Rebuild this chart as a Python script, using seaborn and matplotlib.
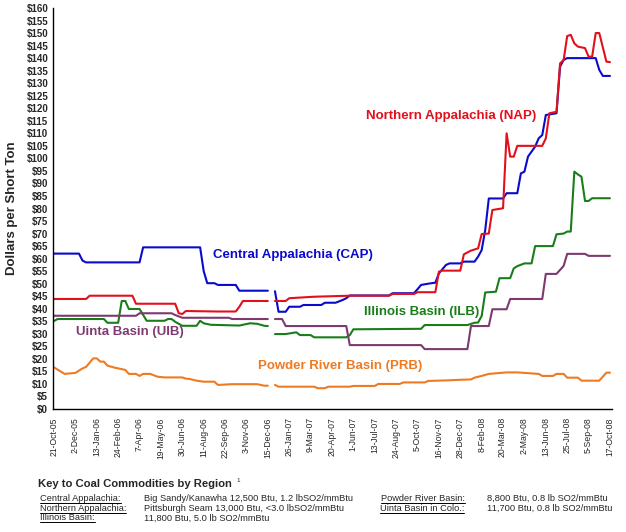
import numpy as np
import pandas as pd
import matplotlib
matplotlib.use("Agg")
import matplotlib.pyplot as plt
from matplotlib.lines import Line2D
import seaborn as sns

NA = np.nan  # missing week (holiday) -> break in the lines

# Central Appalachia (CAP)
cap_dates = ["2005-10-21", "2005-12-09", "2005-12-16", "2005-12-23", "2006-04-07", "2006-04-14",
             "2006-08-04", "2006-08-11", "2006-08-18", "2006-09-01", "2006-09-08", "2006-10-13",
             "2006-10-20", "2006-12-15", "2006-12-22", "2006-12-29", "2007-01-05", "2007-01-19",
             "2007-01-26", "2007-02-16", "2007-02-23", "2007-03-30", "2007-04-06", "2007-04-27",
             "2007-05-11", "2007-05-18", "2007-05-25", "2007-08-10", "2007-08-17", "2007-09-28",
             "2007-10-05", "2007-10-12", "2007-10-26", "2007-11-09", "2007-11-16", "2007-11-30",
             "2007-12-07", "2007-12-28", "2008-01-04", "2008-01-25", "2008-02-01", "2008-02-08",
             "2008-02-15", "2008-02-22", "2008-03-21", "2008-03-28", "2008-04-18", "2008-04-25",
             "2008-05-02", "2008-05-09", "2008-05-23", "2008-05-30", "2008-06-06", "2008-06-13",
             "2008-07-04", "2008-07-11", "2008-07-18", "2008-07-25", "2008-09-19", "2008-09-26",
             "2008-10-03", "2008-10-17"]
cap_price = [62, 62, 59.2, 58.5, 58.5, 64.5,
             64.5, 55, 50.2, 50.2, 49.5, 49.5,
             47.2, 47.2, NA, 47, 38.8, 38.8,
             40.8, 40.8, 41.5, 41.5, 42.4, 42.4,
             43.5, 44.2, 45.3, 45.3, 46.2, 46.2,
             47.8, 49.5, 50, 50.4, 54.1, 57.5,
             58.1, 58.1, 58.8, 58.8, 60.8, 63.4,
             71.4, 84, 84, 86.1, 86.1, 94,
             94.7, 100.7, 104.7, 108, 109.3, 117.3,
             118, 136.6, 139.3, 140, 140, 135.3,
             132.9, 132.9]

# Northern Appalachia (NAP)
nap_dates = ["2005-10-21", "2005-12-23", "2005-12-30", "2006-03-24", "2006-03-31", "2006-06-16",
             "2006-06-23", "2006-06-30", "2006-07-07", "2006-09-08", "2006-10-13", "2006-10-20",
             "2006-10-27", "2006-12-15", "2006-12-22", "2006-12-29", "2007-01-19", "2007-01-26",
             "2007-03-16", "2007-05-25", "2007-08-10", "2007-08-17", "2007-09-28", "2007-10-05",
             "2007-11-09", "2007-11-16", "2007-11-23", "2007-12-28", "2008-01-04", "2008-01-18",
             "2008-02-01", "2008-02-08", "2008-02-22", "2008-02-29", "2008-03-21", "2008-03-28",
             "2008-04-04", "2008-04-11", "2008-04-18", "2008-06-06", "2008-06-13", "2008-06-20",
             "2008-07-04", "2008-07-11", "2008-07-18", "2008-07-25", "2008-08-01", "2008-08-08",
             "2008-08-15", "2008-08-29", "2008-09-05", "2008-09-12", "2008-09-19", "2008-09-26",
             "2008-10-10", "2008-10-17"]
nap_price = [43.9, 43.9, 45.2, 45.2, 42, 42,
             38.2, 37.9, 39.1, 38.9, 38.9, 40.8,
             43.1, 43.1, NA, 43.1, 43.1, 44.2,
             44.8, 45.2, 45.2, 45.9, 45.9, 46.6,
             46.6, 54.8, 55.2, 55.2, 61.7, 63.2,
             64.1, 69.8, 70, 79.4, 80.1, 110,
             100.7, 100.7, 105, 105, 108, 118,
             118.6, 137.9, 139.3, 148.8, 149.3, 145.9,
             144.6, 144, 140.6, 140.6, 150, 150,
             138.6, 138.4]

# Illinois Basin (ILB)
ilb_dates = ["2005-10-21", "2005-10-28", "2006-01-27", "2006-02-03", "2006-02-24", "2006-03-03",
             "2006-03-10", "2006-03-17", "2006-04-07", "2006-04-21", "2006-05-26", "2006-06-02",
             "2006-06-09", "2006-06-16", "2006-06-30", "2006-07-28", "2006-08-04", "2006-08-11",
             "2006-08-25", "2006-10-20", "2006-11-10", "2006-11-24", "2006-12-08", "2006-12-15",
             "2006-12-22", "2006-12-29", "2007-01-19", "2007-02-09", "2007-02-16", "2007-03-09",
             "2007-03-16", "2007-05-18", "2007-05-25", "2007-06-01", "2007-10-12", "2007-10-19",
             "2008-01-11", "2008-01-25", "2008-02-01", "2008-02-08", "2008-02-15", "2008-03-07",
             "2008-03-14", "2008-04-04", "2008-04-11", "2008-04-18", "2008-05-02", "2008-05-16",
             "2008-05-23", "2008-06-27", "2008-07-04", "2008-07-18", "2008-07-25", "2008-08-01",
             "2008-08-08", "2008-08-15", "2008-08-22", "2008-08-29", "2008-09-05", "2008-09-12",
             "2008-10-17"]
ilb_price = [35.1, 35.9, 35.9, 34.4, 34.4, 43.1,
             43.1, 39.9, 39.9, 35.2, 35.2, 35.9,
             35.9, 34.8, 33.2, 33.2, 35.2, 34.2,
             33.6, 33.3, 34.2, 34, 33.2, 33.1,
             NA, 29.9, 29.9, 30.6, 29.5, 29.5,
             28.6, 28.6, 29.5, 31.8, 32, 33.5,
             33.5, 34.4, 34.5, 37.1, 46.5, 46.8,
             52.2, 52.2, 56.1, 57, 58.1, 58.1,
             65, 65, 69.7, 70, 70.8, 70.8,
             94.7, 93.6, 92.7, 83, 83, 84.1,
             84.1]

# Uinta Basin (UIB)
uib_dates = ["2005-10-21", "2006-03-31", "2006-04-07", "2006-06-09", "2006-06-16", "2006-06-30",
             "2006-09-29", "2006-10-06", "2006-12-15", "2006-12-22", "2006-12-29", "2007-01-12",
             "2007-01-19", "2007-05-18", "2007-05-25", "2007-10-12", "2007-10-19", "2008-01-11",
             "2008-01-18", "2008-02-22", "2008-02-29", "2008-03-28", "2008-04-04", "2008-06-06",
             "2008-06-13", "2008-07-04", "2008-07-18", "2008-07-25", "2008-08-29", "2008-09-05",
             "2008-10-17"]
uib_price = [37.2, 37.2, 38.2, 38.2, 37.5, 36.4,
             36.4, 35.9, 35.9, NA, 35.9, 35.9,
             33.1, 33.1, 25.5, 25.5, 23.9, 23.9,
             33.1, 33.1, 39.8, 39.8, 43.9, 43.9,
             53.9, 53.9, 57.1, 61.9, 61.9, 61.1,
             61.1]

# Powder River Basin (PRB)
prb_dates = ["2005-10-21", "2005-11-11", "2005-12-02", "2005-12-16", "2005-12-23", "2006-01-06",
             "2006-01-13", "2006-01-20", "2006-01-27", "2006-02-03", "2006-02-17", "2006-02-24",
             "2006-03-10", "2006-03-17", "2006-03-31", "2006-04-07", "2006-04-14", "2006-04-28",
             "2006-05-12", "2006-05-26", "2006-06-30", "2006-07-07", "2006-07-14", "2006-07-28",
             "2006-08-11", "2006-09-01", "2006-09-08", "2006-10-06", "2006-11-24", "2006-12-08",
             "2006-12-15", "2006-12-22", "2006-12-29", "2007-01-05", "2007-03-16", "2007-03-23",
             "2007-04-06", "2007-04-13", "2007-05-25", "2007-06-01", "2007-07-13", "2007-07-20",
             "2007-08-31", "2007-09-07", "2007-10-19", "2007-10-26", "2007-11-30", "2007-12-21",
             "2008-01-18", "2008-01-25", "2008-02-08", "2008-02-22", "2008-03-28", "2008-04-18",
             "2008-05-30", "2008-06-06", "2008-06-27", "2008-07-04", "2008-07-18", "2008-07-25",
             "2008-08-15", "2008-08-22", "2008-09-26", "2008-10-10", "2008-10-17"]
prb_price = [16.6, 14, 14.4, 16.2, 16.8, 20.2,
             20.2, 18.9, 18.9, 17.3, 16.5, 16.2,
             15.6, 14, 14, 13.2, 14, 14,
             12.9, 12.6, 12.6, 12.1, 12, 11.3,
             10.9, 10.9, 9.6, 9.9, 9.9, 9.3,
             9.3, NA, 9.6, 8.9, 8.9, 8.3,
             8.3, 8.9, 8.9, 9.2, 9.2, 10,
             10, 10.6, 10.6, 11.2, 11.4, 11.6,
             11.8, 12.5, 13.2, 14, 14.6, 14.6,
             14, 13.2, 13.2, 14, 14, 12.5,
             12.5, 11.3, 11.3, 14.5, 14.5]

regions = ["CAP", "NAP", "ILB", "UIB", "PRB"]
region_labels = ["Central Appalachia (CAP)", "Northern Appalachia (NAP)", "Illinois Basin (ILB)",
                 "Uinta Basin (UIB)", "Powder River Basin (PRB)"]
colors = ["#0A0ACC", "#E2101C", "#1A7D1A", "#7E3A70", "#EE7A22"]

tick_labels = ["21-Oct-05", "2-Dec-05", "13-Jan-06", "24-Feb-06", "7-Apr-06", "19-May-06",
               "30-Jun-06", "11-Aug-06", "22-Sep-06", "3-Nov-06", "15-Dec-06", "26-Jan-07",
               "9-Mar-07", "20-Apr-07", "1-Jun-07", "13-Jul-07", "24-Aug-07", "5-Oct-07",
               "16-Nov-07", "28-Dec-07", "8-Feb-08", "20-Mar-08", "2-May-08", "13-Jun-08",
               "25-Jul-08", "5-Sep-08", "17-Oct-08"]

key_names = ["Central Appalachia:", "Northern Appalachia:", "Illinois Basin:",
             "Powder River Basin:", "Uinta Basin in Colo.:"]
key_specs = ["Big Sandy/Kanawha 12,500 Btu, 1.2 lbSO2/mmBtu",
             "Pittsburgh Seam 13,000 Btu, <3.0 lbSO2/mmBtu",
             "11,800 Btu, 5.0 lb SO2/mmBtu",
             "8,800 Btu, 0.8 lb SO2/mmBtu",
             "11,700 Btu, 0.8 lb SO2/mmBtu"]

sns.set_theme(style="white")
plt.rcParams["font.family"] = ["Liberation Sans", "DejaVu Sans"]

frames = []
for name, d, v in zip(regions, [cap_dates, nap_dates, ilb_dates, uib_dates, prb_dates],
                      [cap_price, nap_price, ilb_price, uib_price, prb_price]):
    part = pd.DataFrame({"date": pd.to_datetime(d), "price": v})
    part["seg"] = part["price"].isna().cumsum()
    part["region"] = name
    frames.append(part.dropna())
df = pd.concat(frames, ignore_index=True)

W, H = 626, 532
fig = plt.figure(figsize=(W / 100, H / 100), dpi=100)
fig.patch.set_facecolor("white")
ax = fig.add_axes([53 / W, 1 - 409 / H, 559 / W, 401 / H])

sns.lineplot(data=df, x="date", y="price", hue="region", units="seg", estimator=None,
             hue_order=regions, palette=colors, linewidth=1.5, legend=False, ax=ax)

# axes
start, end = pd.Timestamp(cap_dates[0]), pd.Timestamp(cap_dates[-1])
ax.set_xlim(start - pd.Timedelta(days=2), end + pd.Timedelta(days=4))
ax.set_ylim(0, 160)
yt = list(range(0, 161, 5))
ax.set_yticks(yt, labels=[f"${v}" for v in yt], fontweight="bold", fontsize=7)
ax.set_xticks(pd.to_datetime(tick_labels, format="%d-%b-%y"), labels=tick_labels,
              rotation=90, fontsize=6.2)
ax.set_xticks(pd.date_range(start, end, freq="7D"), minor=True)
ax.tick_params(axis="y", direction="inout", length=5, width=1, pad=1, color="black")
ax.tick_params(axis="x", which="both", direction="out", length=4, width=0.8, pad=2, color="black")
ax.set_xlabel("")
ax.set_ylabel("")
ax.grid(False)
sns.despine(ax=ax)
for s in ["left", "bottom"]:
    ax.spines[s].set_color("black")
    ax.spines[s].set_linewidth(1)


def ftxt(x, y, s, **kw):
    return fig.text(x / W, 1 - y / H, s, **kw)


ftxt(12, 208, "Dollars per Short Ton", rotation=90, fontsize=9.5, fontweight="bold",
     ha="center", va="center")

# series labels in the plot
label_pos = [(213, 255), (366, 116), (364, 312), (76, 332), (258, 366)]
for (x, y), txt, c in zip(label_pos, region_labels, colors):
    ftxt(x, y, txt, color=c, fontsize=9.5, fontweight="bold", ha="left", va="center")

# key under the chart
ftxt(38, 487, "Key to Coal Commodities by Region", fontsize=8.1, fontweight="bold", va="baseline")
ftxt(236, 478, "1", fontsize=4.5, va="top")

name_pos = [(40, 501), (40, 511), (40, 520.5), (381, 501), (380, 511)]
spec_pos = [(144, 501), (144, 511), (144, 520.5), (487, 501), (487, 511)]
name_txt = [ftxt(x, y, s, fontsize=6.7, va="baseline") for (x, y), s in zip(name_pos, key_names)]
for (x, y), s in zip(spec_pos, key_specs):
    ftxt(x, y, s, fontsize=6.7, va="baseline")

fig.canvas.draw()
rend = fig.canvas.get_renderer()
for t, (x, y) in zip(name_txt, name_pos):
    bb = t.get_window_extent(rend)
    yy = 1 - (y + 1.7) / H
    fig.add_artist(Line2D([bb.x0 / W, bb.x1 / W], [yy, yy], color="black", linewidth=0.7))

fig.savefig("out.png", dpi=100)
